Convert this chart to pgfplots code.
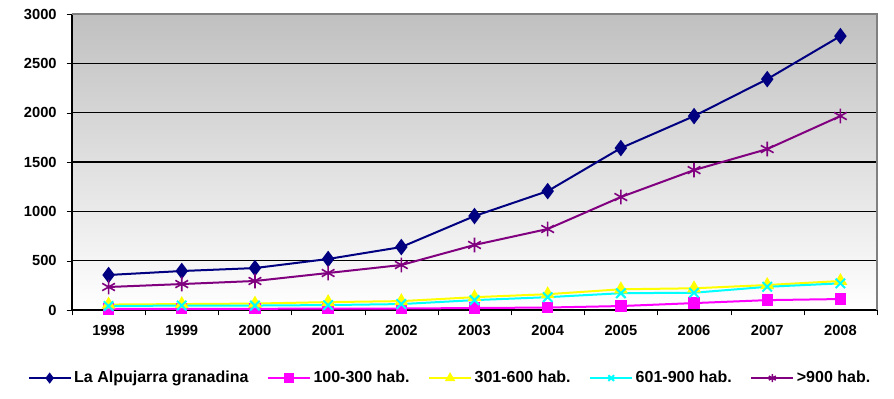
\documentclass[border=0pt]{standalone}
\usepackage{pgfplots}
\pgfplotsset{compat=1.18}
\usepackage{fontspec}
\setmainfont{Liberation Sans}
\definecolor{cnavy}{HTML}{000080}
\definecolor{cmag}{HTML}{FF00FF}
\definecolor{cyel}{HTML}{FFFF00}
\definecolor{ccyan}{HTML}{00FFFF}
\definecolor{cpurp}{HTML}{800080}
\definecolor{bgtop}{HTML}{C0C0C0}
\begin{document}
\begin{tikzpicture}[x=1pt,y=1pt]
\useasboundingbox (-54,-66.75) rectangle (616.5,232.5);
\begin{axis}[
  at={(0,0)}, anchor=south west,
  scale only axis, width=603.75pt, height=222pt,
  xmin=-0.5, xmax=10.5, ymin=0, ymax=3000,
  xtick={0,...,10},
  xticklabels={1998,1999,2000,2001,2002,2003,2004,2005,2006,2007,2008},
  minor xtick={-0.5,0.5,...,10.5},
  major x tick style={draw=none},
  minor x tick style={black},
  ytick={0,500,...,3000},
  ymajorgrids, grid style={black, line width=0.8pt},
  tick align=outside, major tick length=4pt, minor tick length=4pt,
  y tick style={black},
  axis x line*=bottom, axis y line*=left,
  axis line style={black, line width=0.8pt, -},
  axis background/.style={shade, top color=bgtop, bottom color=white},
  tick label style={font=\bfseries\fontsize{11}{13}\selectfont},
  /pgf/number format/assume math mode=true,
  /pgf/number format/set thousands separator={},
  xticklabel style={yshift=-4pt},
  yticklabel style={xshift=-4pt},
  legend style={at={(0.47,-0.23)}, anchor=center, draw=none, fill=none,
    font=\bfseries\fontsize{12}{14}\selectfont, legend columns=5,
    /tikz/every even column/.append style={column sep=12pt}},
  legend image code/.code={
    \draw[mark repeat=2,mark phase=2, mark size=3pt] plot coordinates {(0cm,0cm) (0.55cm,0cm) (1.1cm,0cm)};},
  clip=false,
]
\addplot[cnavy, line width=1.5pt, mark=diamond*, mark size=5pt, mark options={solid, fill=cnavy}]
  coordinates {(0,355) (1,395) (2,425) (3,517) (4,638) (5,952) (6,1205) (7,1641) (8,1965) (9,2340) (10,2776)};
\addlegendentry{La Alpujarra granadina}
\addplot[cmag, line width=1.5pt, mark=square*, mark size=3.5pt, mark options={solid, fill=cmag}]
  coordinates {(0,10) (1,12) (2,12) (3,14) (4,15) (5,20) (6,25) (7,40) (8,70) (9,100) (10,111)};
\addlegendentry{100-300 hab.}
\addplot[cyel, line width=1.5pt, mark=triangle*, mark size=4.5pt, mark options={solid, fill=cyel}]
  coordinates {(0,55) (1,60) (2,65) (3,80) (4,90) (5,130) (6,160) (7,210) (8,220) (9,253) (10,294)};
\addlegendentry{301-600 hab.}
\addplot[ccyan, line width=1.5pt, mark=x, mark size=5pt, mark options={solid, line width=1.5pt}]
  coordinates {(0,40) (1,45) (2,45) (3,50) (4,60) (5,100) (6,130) (7,170) (8,175) (9,235) (10,270)};
\addlegendentry{601-900 hab.}
\addplot[cpurp, line width=1.5pt, mark=asterisk, mark size=5.5pt, mark options={solid, line width=1.2pt}]
  coordinates {(0,233) (1,263) (2,294) (3,375) (4,456) (5,659) (6,821) (7,1145) (8,1418) (9,1631) (10,1966)};
\addlegendentry{>900 hab.}
\draw[gray, line width=1pt] (rel axis cs:0,1) -- (rel axis cs:1,1) -- (rel axis cs:1,0);
\end{axis}
\end{tikzpicture}
\end{document}
